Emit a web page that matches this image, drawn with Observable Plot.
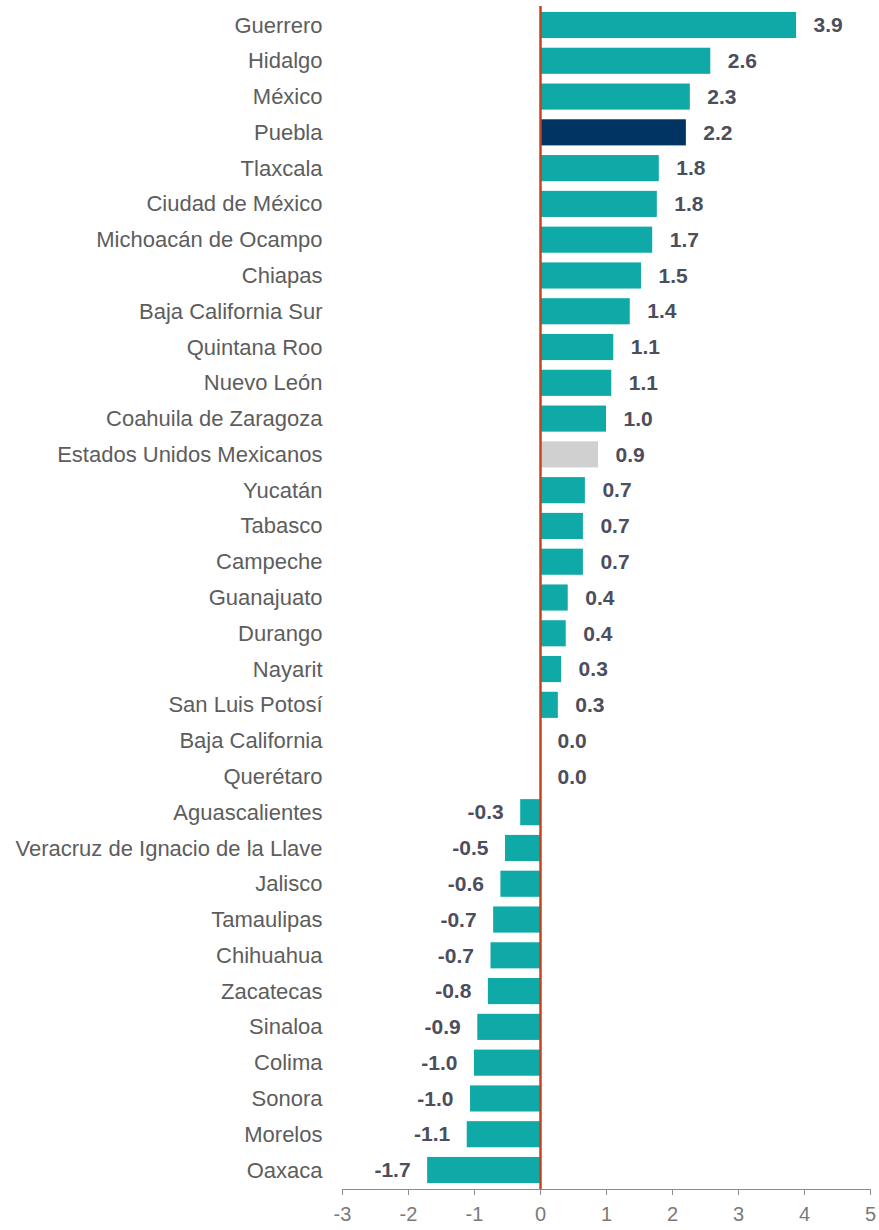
<!DOCTYPE html>
<html><head><meta charset="utf-8">
<script src="https://cdn.jsdelivr.net/npm/d3@7"></script>
<script src="https://cdn.jsdelivr.net/npm/@observablehq/plot@0.6"></script>
<style>body{margin:0;background:#fff;font-family:"Liberation Sans",Arial,sans-serif}</style>
</head><body><div id="chart"></div>
<script>
const states = ["Guerrero","Hidalgo","México","Puebla","Tlaxcala","Ciudad de México","Michoacán de Ocampo","Chiapas","Baja California Sur","Quintana Roo","Nuevo León","Coahuila de Zaragoza","Estados Unidos Mexicanos","Yucatán","Tabasco","Campeche","Guanajuato","Durango","Nayarit","San Luis Potosí","Baja California","Querétaro","Aguascalientes","Veracruz de Ignacio de la Llave","Jalisco","Tamaulipas","Chihuahua","Zacatecas","Sinaloa","Colima","Sonora","Morelos","Oaxaca"];
const values = [3.88,2.58,2.27,2.21,1.80,1.77,1.70,1.53,1.36,1.11,1.08,1.00,0.88,0.68,0.65,0.65,0.42,0.39,0.32,0.27,0.0,0.0,-0.30,-0.53,-0.60,-0.71,-0.75,-0.79,-0.95,-1.00,-1.06,-1.11,-1.71];
const labels = ["3.9","2.6","2.3","2.2","1.8","1.8","1.7","1.5","1.4","1.1","1.1","1.0","0.9","0.7","0.7","0.7","0.4","0.4","0.3","0.3","0.0","0.0","-0.3","-0.5","-0.6","-0.7","-0.7","-0.8","-0.9","-1.0","-1.0","-1.1","-1.7"];
const xTicks = [-3,-2,-1,0,1,2,3,4,5];
const highlight = "Puebla", national = "Estados Unidos Mexicanos";

const data = states.map((s,i)=>({state:s, value:values[i], label:labels[i]}));
const colorOf = d => d.state===highlight ? "#013462" : d.state===national ? "#d0d0d0" : "#0fa9a8";

const chart = Plot.plot({
  width: 879, height: 1230,
  marginLeft: 342, marginRight: 9, marginTop: 6, marginBottom: 41,
  style: {fontFamily: "'Liberation Sans', Arial, sans-serif", background: "#fff"},
  x: {domain: [-3,5], ticks: xTicks, label: null},
  y: {domain: states, paddingInner: 0.27, paddingOuter: 0.166, round: false, label: null},
  marks: [
    Plot.barX(data, {y: "state", x: "value", fill: colorOf}),
    Plot.ruleX([0], {stroke: "#c9421c", strokeWidth: 2.5}),
    Plot.frame({anchor: "bottom", stroke: "#8c8c8c"}),
    Plot.axisX({ticks: xTicks, tickSize: 6, tickPadding: 11, stroke: "#8c8c8c", fill: "#7a7a7a", fontSize: 20, tickFormat: d => String(d), label: null}),
    Plot.axisY({tickSize: 0, tickPadding: 20, fill: "#5d5d5d", fontSize: 22, label: null}),
    Plot.text(data.filter(d=>d.value>=0), {y: "state", x: "value", text: "label", textAnchor: "start", dx: 17, fill: "#4d4e5c", fontWeight: "bold", fontSize: 21}),
    Plot.text(data.filter(d=>d.value<0), {y: "state", x: "value", text: "label", textAnchor: "end", dx: -17, fill: "#4d4e5c", fontWeight: "bold", fontSize: 21})
  ]
});
document.getElementById("chart").appendChild(chart);
</script></body></html>
